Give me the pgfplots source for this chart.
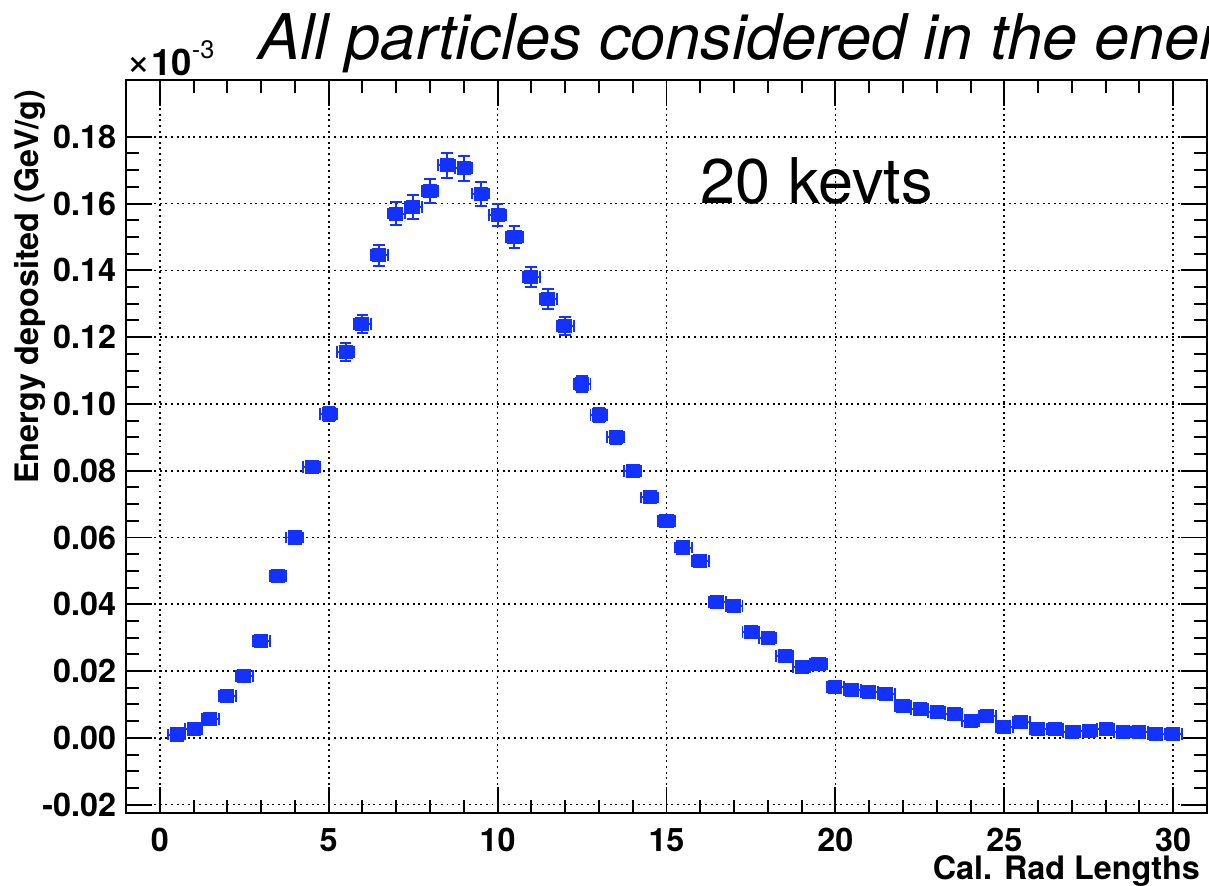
\documentclass[border=0pt]{standalone}
\usepackage{pgfplots}
\pgfplotsset{compat=1.18}
\usepackage{pgfplotstable}
\usepackage{fontspec}
\setmainfont{TeX Gyre Heros}

\definecolor{rootblue}{RGB}{20,50,255}

% x  y  ex  ey   (y in units of 1e-3 GeV/g)
\pgfplotstableread{
x     y       ex    ey
0.5   0.0010  0.25  0.0003
1.0   0.0026  0.25  0.0004
1.5   0.0056  0.25  0.0005
2.0   0.0125  0.25  0.0006
2.5   0.0185  0.25  0.0007
3.0   0.0290  0.25  0.0009
3.5   0.0485  0.25  0.0012
4.0   0.0600  0.25  0.0014
4.5   0.0810  0.25  0.0018
5.0   0.0970  0.25  0.0021
5.5   0.1155  0.25  0.0026
6.0   0.1240  0.25  0.0027
6.5   0.1445  0.25  0.0031
7.0   0.1570  0.25  0.0034
7.5   0.1590  0.25  0.0035
8.0   0.1637  0.25  0.0036
8.5   0.1715  0.25  0.0037
9.0   0.1706  0.25  0.0037
9.5   0.1630  0.25  0.0036
10.0  0.1566  0.25  0.0034
10.5  0.1500  0.25  0.0033
11.0  0.1380  0.25  0.0030
11.5  0.1314  0.25  0.0029
12.0  0.1233  0.25  0.0027
12.5  0.1060  0.25  0.0023
13.0  0.0966  0.25  0.0021
13.5  0.0900  0.25  0.0020
14.0  0.0800  0.25  0.0018
14.5  0.0720  0.25  0.0016
15.0  0.0650  0.25  0.0014
15.5  0.0570  0.25  0.0013
16.0  0.0530  0.25  0.0012
16.5  0.0406  0.25  0.0009
17.0  0.0394  0.25  0.0009
17.5  0.0316  0.25  0.0007
18.0  0.0298  0.25  0.0007
18.5  0.0244  0.25  0.0006
19.0  0.0211  0.25  0.0005
19.5  0.0220  0.25  0.0005
20.0  0.0152  0.25  0.0004
20.5  0.0143  0.25  0.0004
21.0  0.0137  0.25  0.0004
21.5  0.0131  0.25  0.0004
22.0  0.0095  0.25  0.0003
22.5  0.0086  0.25  0.0003
23.0  0.0077  0.25  0.0003
23.5  0.0071  0.25  0.0003
24.0  0.0050  0.25  0.0003
24.5  0.0065  0.25  0.0003
25.0  0.0032  0.25  0.0003
25.5  0.0047  0.25  0.0003
26.0  0.0026  0.25  0.0003
26.5  0.0026  0.25  0.0003
27.0  0.0017  0.25  0.0003
27.5  0.0020  0.25  0.0003
28.0  0.0026  0.25  0.0003
28.5  0.0017  0.25  0.0003
29.0  0.0017  0.25  0.0003
29.5  0.0011  0.25  0.0003
30.0  0.0011  0.25  0.0003
}\edep

\begin{document}
\begin{tikzpicture}
\begin{axis}[
  at={(0,0)}, anchor=south west,
  scale only axis,
  width=13.5125cm, height=9.1625cm,
  xmin=-1, xmax=31,
  ymin=-0.0225, ymax=0.197,
  axis line style={line width=0.7pt},
  tick style={line width=0.7pt, black},
  tick align=inside,
  tick pos=both,
  major tick length=0.32cm,
  minor tick length=0.16cm,
  xtick={0,5,...,30},
  xticklabels={0,5,10,15,20,25,30},
  minor x tick num=4,
  ytick={-0.02,0,0.02,0.04,0.06,0.08,0.10,0.12,0.14,0.16,0.18},
  yticklabels={-0.02,0.00,0.02,0.04,0.06,0.08,0.10,0.12,0.14,0.16,0.18},
  minor y tick num=3,
  ticklabel style={font=\fontsize{11.5}{13}\selectfont\bfseries},
  xticklabel style={yshift=-2pt},
  grid=major,
  major grid style={black, line width=0.6pt, dash pattern=on 0.7pt off 1.3pt},
  xlabel={Cal. Rad Lengths},
  xlabel style={font=\fontsize{11.5}{13}\selectfont\bfseries, inner sep=0pt,
    at={(axis description cs:0.994,-0.091)}, anchor=base east},
  ylabel={Energy deposited (GeV/g)},
  ylabel style={font=\fontsize{11.5}{13}\selectfont\bfseries,
    at={(axis description cs:-0.089,1.0)}, anchor=east, rotate=0},
  clip mode=individual,
]
\addplot[only marks, mark=square*, mark size=2.3pt, color=rootblue,
  error bars/.cd,
    x dir=both, x explicit,
    y dir=both, y explicit,
    error bar style={line width=0.7pt, rootblue},
    error mark options={rotate=90, mark size=2.1pt, line width=0.7pt, rootblue},
] table[x=x, y=y, x error=ex, y error=ey] {\edep};

\node[font=\fontsize{22.4}{26}\selectfont, anchor=base west, inner sep=0pt]
  at (axis description cs:0.531,0.832) {20 kevts};
\node[font=\fontsize{22.4}{26}\selectfont\itshape, anchor=base west, inner sep=0pt]
  at (axis description cs:0.1221,1.0273) {All particles considered in the energy deposition};
\node[anchor=base west, inner sep=0pt]
  at (axis description cs:0.0,1.0068)
  {{\fontsize{15}{16}\selectfont ×}{\fontsize{13}{15}\selectfont\bfseries 10}\raisebox{1.1ex}{\fontsize{9}{10}\selectfont -3}};
\end{axis}
\pgfresetboundingbox
\useasboundingbox (-1.575,-0.9125) rectangle (13.5375,10.1625);
\end{tikzpicture}
\end{document}
